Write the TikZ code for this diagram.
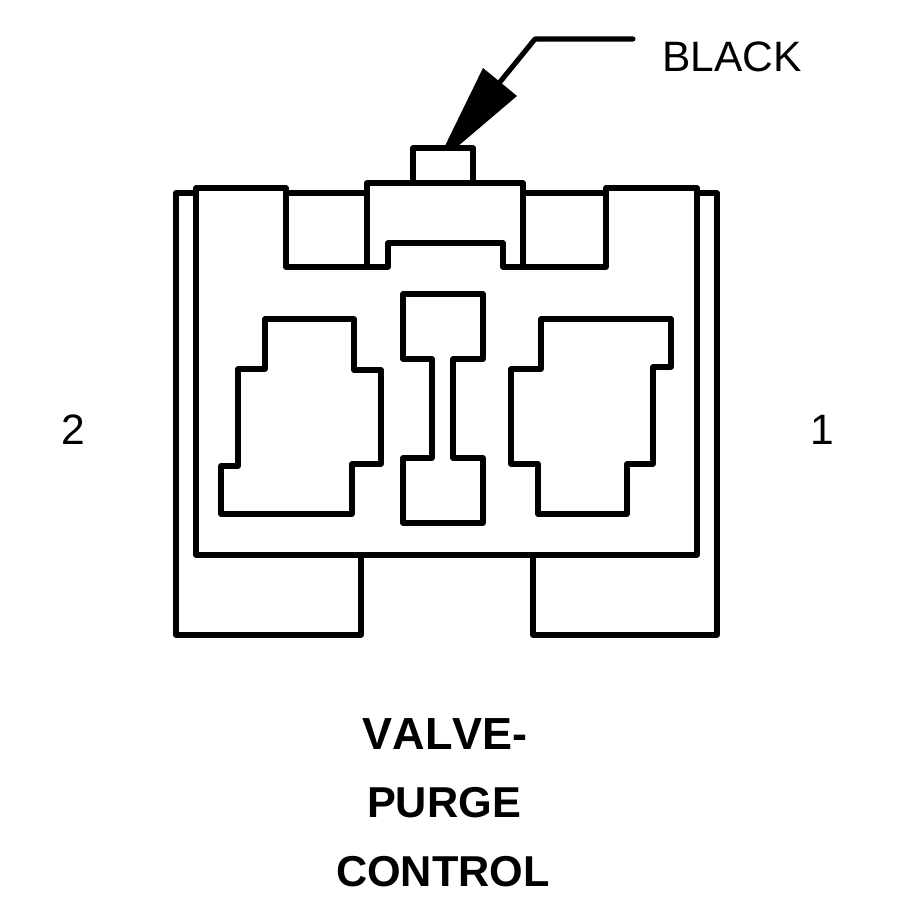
\documentclass[tikz,border=0pt]{standalone}
\usepackage{fontspec}
\setmainfont{Liberation Sans}
\tikzset{
  outline/.style={line width=1.45pt,line cap=round,line join=round},
  plainlabel/.style={inner sep=0pt,font=\fontsize{12.1}{14}\selectfont},
  titlelabel/.style={inner sep=0pt,font=\fontsize{12.3}{14}\selectfont\bfseries}
}
\begin{document}
\begin{tikzpicture}
\useasboundingbox (0,0) rectangle (9,9);
\node[plainlabel] (black) at (7.32,8.43) {BLACK};
\node[plainlabel] (p2) at (0.73,4.70) {2};
\node[plainlabel] (p1) at (8.22,4.70) {1};
\node[titlelabel] (t1) at (4.45,1.66) {\fontsize{12.8}{14}\selectfont\addfontfeature{Kerning=Off}VALVE-};
\node[titlelabel] (t2) at (4.44,0.97) {PURGE};
\node[titlelabel] (t3) at (4.43,0.28) {CONTROL};
\coordinate (l1) at (6.33,8.61);
\coordinate (l2) at (5.35,8.61);
\coordinate (l3) at (5.00,8.18);
\draw[outline] (l1)--(l2)--(l3);
\fill (4.43,7.50)--(4.83,8.32)--(5.17,8.04)--(4.57,7.53)--cycle;
% housing
\draw[outline] (1.96,3.45)--(1.96,7.12)--(2.86,7.12)--(2.86,6.33)--(3.88,6.33)--(3.88,6.57)--(5.03,6.57)--(5.03,6.33)--(6.06,6.33)--(6.06,7.12)--(6.97,7.12)--(6.97,3.45)--cycle;
\draw[outline] (3.67,6.33)--(3.67,7.17)--(5.23,7.17)--(5.23,6.33);
\draw[outline] (4.13,7.17)--(4.13,7.52)--(4.73,7.52)--(4.73,7.17);
\draw[outline] (2.86,7.07)--(3.67,7.07);
\draw[outline] (5.23,7.07)--(6.06,7.07);
% outer shell
\draw[outline] (1.96,7.07)--(1.76,7.07)--(1.76,2.65)--(3.61,2.65)--(3.61,3.45);
\draw[outline] (6.97,7.07)--(7.17,7.07)--(7.17,2.65)--(5.33,2.65)--(5.33,3.45);
% left pocket
\draw[outline] (2.65,5.81)--(3.54,5.81)--(3.54,5.30)--(3.81,5.30)--(3.81,4.36)--(3.52,4.36)--(3.52,3.86)--(2.21,3.86)--(2.21,4.34)--(2.38,4.34)--(2.38,5.31)--(2.65,5.31)--cycle;
% middle pocket
\draw[outline] (4.03,6.06)--(4.83,6.06)--(4.83,5.41)--(4.53,5.41)--(4.53,4.42)--(4.83,4.42)--(4.83,3.77)--(4.03,3.77)--(4.03,4.42)--(4.32,4.42)--(4.32,5.41)--(4.03,5.41)--cycle;
% right pocket
\draw[outline] (5.41,5.81)--(6.71,5.81)--(6.71,5.33)--(6.53,5.33)--(6.53,4.36)--(6.27,4.36)--(6.27,3.86)--(5.38,3.86)--(5.38,4.36)--(5.11,4.36)--(5.11,5.31)--(5.41,5.31)--cycle;
\end{tikzpicture}
\end{document}
